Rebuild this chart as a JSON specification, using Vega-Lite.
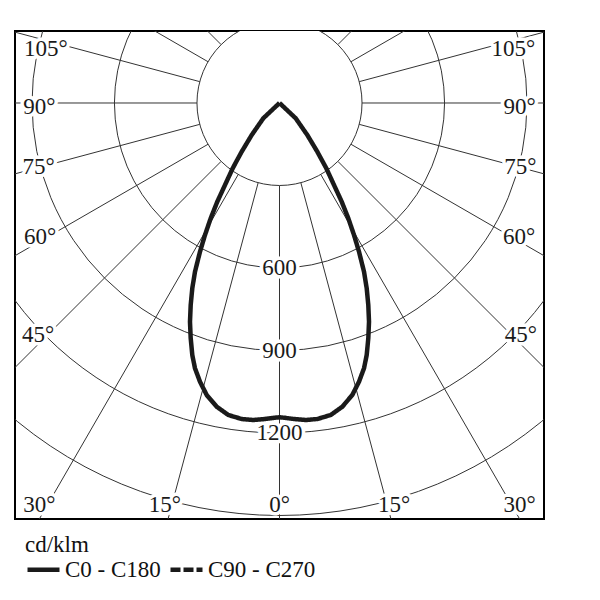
{
  "$schema": "https://vega.github.io/schema/vega-lite/v6.json",
  "width": 529,
  "height": 488,
  "autosize": {"type": "none"},
  "padding": {"left": 15, "top": 31, "right": 56, "bottom": 81},
  "config": {"view": {"stroke": "#000", "strokeWidth": 2}, "font": "Liberation Serif"},
  "datasets": {
    "spokes": [
      {"a": 0, "x1": 0, "y1": -300, "x2": 0, "y2": -2000},
      {"a": 15, "x1": 77.6, "y1": -289.8, "x2": 517.6, "y2": -1931.9},
      {"a": 30, "x1": 150, "y1": -259.8, "x2": 1000, "y2": -1732.1},
      {"a": 45, "x1": 212.1, "y1": -212.1, "x2": 1414.2, "y2": -1414.2},
      {"a": 60, "x1": 259.8, "y1": -150, "x2": 1732.1, "y2": -1000},
      {"a": 75, "x1": 289.8, "y1": -77.6, "x2": 1931.9, "y2": -517.6},
      {"a": 90, "x1": 300, "y1": 0, "x2": 2000, "y2": 0},
      {"a": 105, "x1": 289.8, "y1": 77.6, "x2": 1931.9, "y2": 517.6},
      {"a": 120, "x1": 259.8, "y1": 150, "x2": 1732.1, "y2": 1000},
      {"a": 135, "x1": 212.1, "y1": 212.1, "x2": 1414.2, "y2": 1414.2},
      {"a": 150, "x1": 150, "y1": 259.8, "x2": 1000, "y2": 1732.1},
      {"a": 165, "x1": 77.6, "y1": 289.8, "x2": 517.6, "y2": 1931.9},
      {"a": 180, "x1": 0, "y1": 300, "x2": 0, "y2": 2000},
      {"a": -15, "x1": -77.6, "y1": -289.8, "x2": -517.6, "y2": -1931.9},
      {"a": -30, "x1": -150, "y1": -259.8, "x2": -1000, "y2": -1732.1},
      {"a": -45, "x1": -212.1, "y1": -212.1, "x2": -1414.2, "y2": -1414.2},
      {"a": -60, "x1": -259.8, "y1": -150, "x2": -1732.1, "y2": -1000},
      {"a": -75, "x1": -289.8, "y1": -77.6, "x2": -1931.9, "y2": -517.6},
      {"a": -90, "x1": -300, "y1": 0, "x2": -2000, "y2": 0},
      {"a": -105, "x1": -289.8, "y1": 77.6, "x2": -1931.9, "y2": 517.6},
      {"a": -120, "x1": -259.8, "y1": 150, "x2": -1732.1, "y2": 1000},
      {"a": -135, "x1": -212.1, "y1": 212.1, "x2": -1414.2, "y2": 1414.2},
      {"a": -150, "x1": -150, "y1": 259.8, "x2": -1000, "y2": 1732.1},
      {"a": -165, "x1": -77.6, "y1": 289.8, "x2": -517.6, "y2": 1931.9}
    ],
    "rings": [{"r": 600}, {"r": 900}, {"r": 1200}, {"r": 1500}, {"r": 1800}],
    "inner": [{"r": 300}],
    "curve": [
      {"i": 0, "x": 0, "y": 0, "series": "C0 - C180"},
      {"i": 1, "x": -58.9, "y": -55.6, "series": "C0 - C180"},
      {"i": 2, "x": -101.1, "y": -116.4, "series": "C0 - C180"},
      {"i": 3, "x": -137.5, "y": -177.1, "series": "C0 - C180"},
      {"i": 4, "x": -170.2, "y": -237.5, "series": "C0 - C180"},
      {"i": 5, "x": -198.2, "y": -298.2, "series": "C0 - C180"},
      {"i": 6, "x": -226.2, "y": -358.9, "series": "C0 - C180"},
      {"i": 7, "x": -250.2, "y": -419.3, "series": "C0 - C180"},
      {"i": 8, "x": -270.9, "y": -480, "series": "C0 - C180"},
      {"i": 9, "x": -289.1, "y": -540.7, "series": "C0 - C180"},
      {"i": 10, "x": -307.3, "y": -613.5, "series": "C0 - C180"},
      {"i": 11, "x": -317.1, "y": -673.8, "series": "C0 - C180"},
      {"i": 12, "x": -322.9, "y": -734.5, "series": "C0 - C180"},
      {"i": 13, "x": -325.5, "y": -795.3, "series": "C0 - C180"},
      {"i": 14, "x": -322.9, "y": -855.6, "series": "C0 - C180"},
      {"i": 15, "x": -317.1, "y": -916.4, "series": "C0 - C180"},
      {"i": 16, "x": -307.3, "y": -964.7, "series": "C0 - C180"},
      {"i": 17, "x": -289.1, "y": -1013.5, "series": "C0 - C180"},
      {"i": 18, "x": -264.7, "y": -1061.8, "series": "C0 - C180"},
      {"i": 19, "x": -228.4, "y": -1104.4, "series": "C0 - C180"},
      {"i": 20, "x": -186.2, "y": -1134.5, "series": "C0 - C180"},
      {"i": 21, "x": -137.5, "y": -1149.1, "series": "C0 - C180"},
      {"i": 22, "x": -95.3, "y": -1152.7, "series": "C0 - C180"},
      {"i": 23, "x": -52.7, "y": -1149.1, "series": "C0 - C180"},
      {"i": 24, "x": -16.4, "y": -1144.4, "series": "C0 - C180"},
      {"i": 25, "x": 0, "y": -1142.9, "series": "C0 - C180"},
      {"i": 26, "x": 16.4, "y": -1144.4, "series": "C0 - C180"},
      {"i": 27, "x": 52.7, "y": -1149.1, "series": "C0 - C180"},
      {"i": 28, "x": 95.3, "y": -1152.7, "series": "C0 - C180"},
      {"i": 29, "x": 137.5, "y": -1149.1, "series": "C0 - C180"},
      {"i": 30, "x": 186.2, "y": -1134.5, "series": "C0 - C180"},
      {"i": 31, "x": 228.4, "y": -1104.4, "series": "C0 - C180"},
      {"i": 32, "x": 264.7, "y": -1061.8, "series": "C0 - C180"},
      {"i": 33, "x": 289.1, "y": -1013.5, "series": "C0 - C180"},
      {"i": 34, "x": 307.3, "y": -964.7, "series": "C0 - C180"},
      {"i": 35, "x": 317.1, "y": -916.4, "series": "C0 - C180"},
      {"i": 36, "x": 322.9, "y": -855.6, "series": "C0 - C180"},
      {"i": 37, "x": 325.5, "y": -795.3, "series": "C0 - C180"},
      {"i": 38, "x": 322.9, "y": -734.5, "series": "C0 - C180"},
      {"i": 39, "x": 317.1, "y": -673.8, "series": "C0 - C180"},
      {"i": 40, "x": 307.3, "y": -613.5, "series": "C0 - C180"},
      {"i": 41, "x": 289.1, "y": -540.7, "series": "C0 - C180"},
      {"i": 42, "x": 270.9, "y": -480, "series": "C0 - C180"},
      {"i": 43, "x": 250.2, "y": -419.3, "series": "C0 - C180"},
      {"i": 44, "x": 226.2, "y": -358.9, "series": "C0 - C180"},
      {"i": 45, "x": 198.2, "y": -298.2, "series": "C0 - C180"},
      {"i": 46, "x": 170.2, "y": -237.5, "series": "C0 - C180"},
      {"i": 47, "x": 137.5, "y": -177.1, "series": "C0 - C180"},
      {"i": 48, "x": 101.1, "y": -116.4, "series": "C0 - C180"},
      {"i": 49, "x": 58.9, "y": -55.6, "series": "C0 - C180"},
      {"i": 50, "x": 0, "y": 0, "series": "C0 - C180"}
    ],
    "labels": [
      {"t": "105°", "x": -850, "y": 196},
      {"t": "105°", "x": 850, "y": 196},
      {"t": "90°", "x": -873, "y": -14},
      {"t": "90°", "x": 873, "y": -14},
      {"t": "75°", "x": -876, "y": -233},
      {"t": "75°", "x": 876, "y": -233},
      {"t": "60°", "x": -871, "y": -489},
      {"t": "60°", "x": 871, "y": -489},
      {"t": "45°", "x": -878, "y": -842},
      {"t": "45°", "x": 878, "y": -842},
      {"t": "30°", "x": -873, "y": -1462},
      {"t": "30°", "x": 873, "y": -1462},
      {"t": "15°", "x": -417, "y": -1462},
      {"t": "15°", "x": 417, "y": -1462},
      {"t": "0°", "x": 0, "y": -1462},
      {"t": "600", "x": 0, "y": -600},
      {"t": "900", "x": 0, "y": -900},
      {"t": "1200", "x": 0, "y": -1200}
    ]
  },
  "encoding": {
    "x": {"type": "quantitative", "scale": {"domain": [-961.8, 961.8], "nice": false, "zero": false}, "axis": null},
    "y": {"type": "quantitative", "scale": {"domain": [-1512.7, 261.8], "nice": false, "zero": false}, "axis": null}
  },
  "layer": [
    {
      "data": {"name": "spokes"},
      "mark": {"type": "rule", "clip": true, "stroke": "#333", "strokeWidth": 1},
      "encoding": {
        "x": {"field": "x1", "type": "quantitative"},
        "y": {"field": "y1", "type": "quantitative"},
        "x2": {"field": "x2"},
        "y2": {"field": "y2"}
      }
    },
    {
      "data": {"name": "rings"},
      "mark": {"type": "arc", "clip": true, "filled": false, "stroke": "#333", "strokeWidth": 1, "theta": 0, "theta2": 6.2832},
      "encoding": {
        "x": {"datum": 0, "type": "quantitative"},
        "y": {"datum": 0, "type": "quantitative"},
        "radius": {"field": "r", "type": "quantitative", "stack": null, "scale": {"type": "linear", "domain": [0, 1000], "range": [0, 275], "zero": true}, "legend": null}
      }
    },
    {
      "data": {"name": "inner"},
      "mark": {"type": "arc", "clip": true, "fill": "white", "stroke": "#333", "strokeWidth": 1, "theta": 0, "theta2": 6.2832},
      "encoding": {
        "x": {"datum": 0, "type": "quantitative"},
        "y": {"datum": 0, "type": "quantitative"},
        "radius": {"field": "r", "type": "quantitative", "stack": null, "scale": {"type": "linear", "domain": [0, 1000], "range": [0, 275], "zero": true}, "legend": null}
      }
    },
    {
      "data": {"name": "labels"},
      "mark": {"type": "text", "font": "Liberation Serif", "fontSize": 23, "align": "center", "baseline": "middle", "stroke": "white", "strokeWidth": 7, "strokeJoin": "round", "fill": "white"},
      "encoding": {
        "x": {"field": "x", "type": "quantitative"},
        "y": {"field": "y", "type": "quantitative"},
        "text": {"field": "t"}
      }
    },
    {
      "data": {"name": "labels"},
      "mark": {"type": "text", "font": "Liberation Serif", "fontSize": 23, "align": "center", "baseline": "middle", "fill": "#1a1a1a"},
      "encoding": {
        "x": {"field": "x", "type": "quantitative"},
        "y": {"field": "y", "type": "quantitative"},
        "text": {"field": "t"}
      }
    },
    {
      "data": {"name": "curve"},
      "mark": {"type": "line", "clip": true, "strokeWidth": 4.5, "color": "#1a1a1a", "strokeJoin": "miter"},
      "encoding": {
        "x": {"field": "x", "type": "quantitative"},
        "y": {"field": "y", "type": "quantitative"},
        "order": {"field": "i", "type": "quantitative"},
        "strokeDash": {
          "field": "series",
          "type": "nominal",
          "scale": {"domain": ["C0 - C180", "C90 - C270"], "range": [[1, 0], [10, 3]]},
          "legend": {
            "title": "cd/klm",
            "orient": "none",
            "legendX": 10,
            "legendY": 503,
            "direction": "horizontal",
            "symbolType": "stroke",
            "symbolSize": 1024,
            "symbolStrokeWidth": 4.5,
            "symbolStrokeColor": "#1a1a1a",
            "labelFont": "Liberation Serif",
            "labelFontSize": 23,
            "labelColor": "#111",
            "labelOffset": 3,
            "titleFont": "Liberation Serif",
            "titleFontSize": 23,
            "titleFontWeight": "normal",
            "titleColor": "#111",
            "titlePadding": -6,
            "columnPadding": 0,
            "symbolOffset": 0
          }
        }
      }
    }
  ]
}
